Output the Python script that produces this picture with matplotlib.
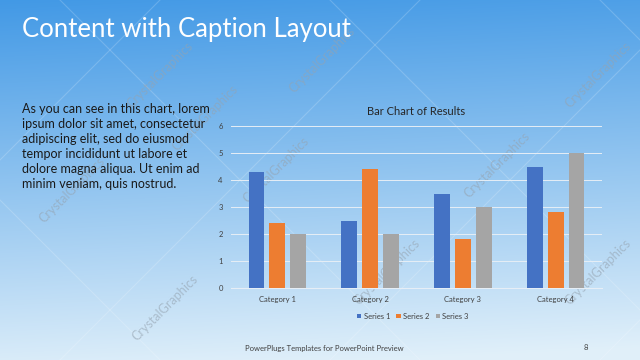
import matplotlib
matplotlib.use("Agg")
import matplotlib.pyplot as plt
import numpy as np

# chart data
categories = ["Category 1", "Category 2", "Category 3", "Category 4"]
series_names = ["Series 1", "Series 2", "Series 3"]
series_1 = [4.3, 2.5, 3.5, 4.5]
series_2 = [2.4, 4.4, 1.8, 2.8]
series_3 = [2.0, 2.0, 3.0, 5.0]
y_ticks = [0, 1, 2, 3, 4, 5, 6]

colors = ["#4472c4", "#ed7d31", "#a5a5a5"]
font = "Lato"

fig = plt.figure(figsize=(6.4, 3.6), dpi=100)

# slide background: blue gradient, darker at the top
bg = fig.add_axes([0, 0, 1, 1], zorder=0)
h, w = 360, 640
yy, xx = np.mgrid[0:1:h * 1j, 0:1:w * 1j]
t = np.clip(yy * 0.95 + xx * 0.08, 0, 1)
top = np.array([0.26, 0.60, 0.90])
bottom = np.array([0.88, 0.94, 0.98])
img = top[None, None, :] * (1 - t[..., None]) + bottom[None, None, :] * t[..., None]
bg.imshow(img, extent=[0, 640, 360, 0], aspect="auto")
bg.set_xlim(0, 640)
bg.set_ylim(360, 0)
bg.axis("off")

# faint diagonal lines and watermarks
for x0 in [-200, 60, 330, 600]:
    bg.plot([x0, x0 + 360], [0, 360], color="white", alpha=0.18, lw=0.8)
    bg.plot([x0 + 360, x0], [0, 360], color="white", alpha=0.18, lw=0.8)
marks = [(160, 75), (322, 60), (598, 75), (72, 190), (276, 170), (497, 165),
         (387, 272), (598, 272), (165, 308), (205, 118)]
for mx, my in marks:
    bg.text(mx, my, "CrystalGraphics", rotation=45, ha="center", va="center",
            fontsize=9, color="#95a3b0", alpha=0.6, family=font)

# slide texts
fig.text(22 / 640, 1 - 30 / 360, "Content with Caption Layout", fontsize=18.5,
         color="white", family=font, va="center", ha="left")
body = ("As you can see in this chart, lorem\n"
        "ipsum dolor sit amet, consectetur\n"
        "adipiscing elit, sed do eiusmod\n"
        "tempor incididunt ut labore et\n"
        "dolore magna aliqua. Ut enim ad\n"
        "minim veniam, quis nostrud.")
fig.text(22 / 640, 1 - 103 / 360, body, fontsize=9, color="#1a1a1a",
         family=font, va="top", ha="left", linespacing=1.3)
fig.text(245 / 640, 1 - 348 / 360, "PowerPlugs Templates for PowerPoint Preview",
         fontsize=5.5, color="#404040", family=font, va="center", ha="left")
fig.text(586 / 640, 1 - 348 / 360, "8", fontsize=5.5, color="#404040",
         family=font, va="center", ha="center")

# bar chart
ax = fig.add_axes([231 / 640, 1 - 288 / 360, 371 / 640, 162 / 360], zorder=2)
ax.patch.set_alpha(0)
x = np.arange(len(categories))
bw = 0.17
offsets = [-0.225, 0, 0.225]
for vals, off, c, name in zip([series_1, series_2, series_3], offsets, colors, series_names):
    ax.bar(x + off, vals, bw, color=c, label=name, zorder=3)

ax.set_xlim(-0.5, 3.5)
ax.set_ylim(0, 6)
ax.set_yticks(y_ticks)
ax.set_xticks(x)
ax.set_xticklabels(categories)
ax.yaxis.grid(True, color="#e6eef6", lw=0.7, zorder=0)
for s in ["top", "right", "left"]:
    ax.spines[s].set_visible(False)
ax.spines["bottom"].set_color("#e6eef6")
ax.tick_params(axis="both", length=0, labelsize=5.5, labelcolor="#404040", pad=6)
for lab in ax.get_xticklabels() + ax.get_yticklabels():
    lab.set_family(font)
ax.set_title("Bar Chart of Results", fontsize=8, color="#262626", family=font, pad=8)

leg = ax.legend(loc="upper center", bbox_to_anchor=(0.49, -0.11), ncol=3, frameon=False,
                prop={"family": font, "size": 5.5}, handlelength=0.6, handleheight=0.6,
                columnspacing=0.8, handletextpad=0.3)
for txt in leg.get_texts():
    txt.set_color("#404040")

fig.savefig("out.png", dpi=100)
